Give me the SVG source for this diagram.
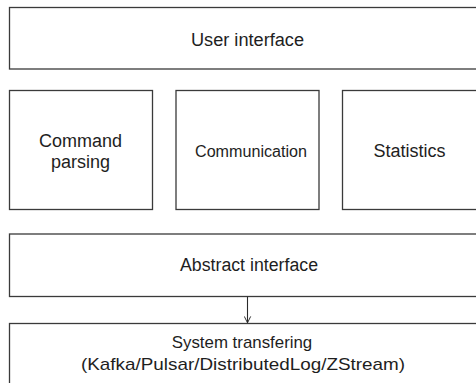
<svg xmlns="http://www.w3.org/2000/svg" width="476" height="383" viewBox="0 0 476 383">
<defs>
<style>
.box{fill:#fff;stroke:#3a3a3a;stroke-width:1.3}
.t{font-family:"Liberation Sans",Arial,Helvetica,sans-serif;fill:#1e1e1e;text-anchor:middle;font-size:18px}
.s{font-size:16px}
.b{font-size:17px}
.conn{stroke:#2a2a2a;stroke-width:1.1;fill:none}
</style>
<marker id="arr" viewBox="0 0 10 10" refX="9" refY="5" markerWidth="8" markerHeight="8" markerUnits="userSpaceOnUse" orient="auto">
<path d="M1,1 L9,5 L1,9" fill="none" stroke="#2a2a2a" stroke-width="1.2"/>
</marker>
</defs>
<rect width="476" height="383" fill="#fff"/>
<g id="user-interface">
<rect class="box" x="9.5" y="7.5" width="480" height="61.5"/>
<text class="t" x="247.5" y="45.5" textLength="113" lengthAdjust="spacingAndGlyphs">User interface</text>
</g>
<g id="command-parsing">
<rect class="box" x="9.5" y="90.5" width="143" height="119"/>
<text class="t" x="80.5" y="146.5" textLength="83" lengthAdjust="spacingAndGlyphs">Command</text>
<text class="t" x="80.5" y="167.5">parsing</text>
</g>
<g id="communication">
<rect class="box" x="176" y="90.5" width="143" height="119"/>
<text class="t s" x="251" y="156.5" textLength="112" lengthAdjust="spacingAndGlyphs">Communication</text>
</g>
<g id="statistics">
<rect class="box" x="342.5" y="90.5" width="143" height="119"/>
<text class="t" x="409.5" y="156.5" textLength="72" lengthAdjust="spacingAndGlyphs">Statistics</text>
</g>
<g id="abstract-interface">
<rect class="box" x="9.5" y="234" width="480" height="62.5"/>
<text class="t" x="249" y="270.5" textLength="138" lengthAdjust="spacingAndGlyphs">Abstract interface</text>
</g>
<g id="system-transfering">
<rect class="box" x="9.5" y="323.5" width="480" height="80"/>
<text class="t b" x="242" y="348.3" textLength="140.5" lengthAdjust="spacingAndGlyphs">System transfering</text>
<text class="t b" x="243" y="370" textLength="324" lengthAdjust="spacingAndGlyphs">(Kafka/Pulsar/DistributedLog/ZStream)</text>
</g>
<g id="connectors">
<line class="conn" x1="247.5" y1="296.5" x2="247.5" y2="322.8" marker-end="url(#arr)"/>
</g>
</svg>
